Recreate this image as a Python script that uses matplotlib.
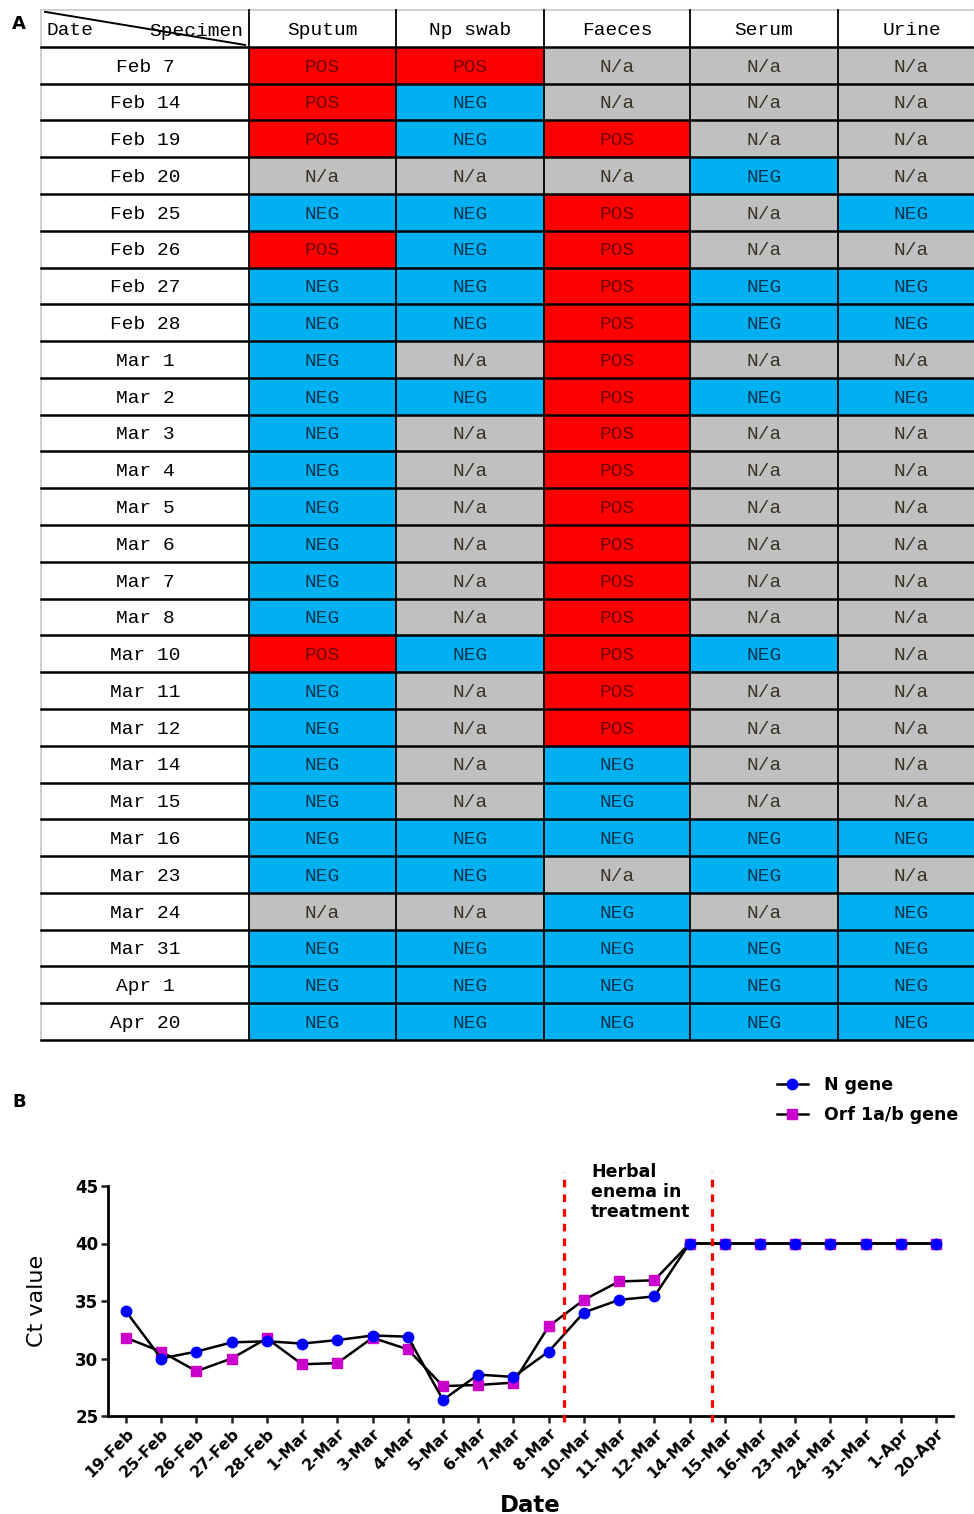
import numpy as np
import matplotlib
matplotlib.use('Agg')
import matplotlib.pyplot as plt
from matplotlib.patches import Rectangle

# ---- panel A data ----
dates = ['Feb 7', 'Feb 14', 'Feb 19', 'Feb 20', 'Feb 25', 'Feb 26', 'Feb 27',
         'Feb 28', 'Mar 1', 'Mar 2', 'Mar 3', 'Mar 4', 'Mar 5', 'Mar 6',
         'Mar 7', 'Mar 8', 'Mar 10', 'Mar 11', 'Mar 12', 'Mar 14', 'Mar 15',
         'Mar 16', 'Mar 23', 'Mar 24', 'Mar 31', 'Apr 1', 'Apr 20']
specimens = ['Sputum', 'Np swab', 'Faeces', 'Serum', 'Urine']
P, N, X = 'POS', 'NEG', 'N/a'
sputum = [P, P, P, X, N, P, N, N, N, N, N, N, N, N, N, N, P, N, N, N, N, N, N, X, N, N, N]
np_swab = [P, N, N, X, N, N, N, N, X, N, X, X, X, X, X, X, N, X, X, X, X, N, N, X, N, N, N]
faeces = [X, X, P, X, P, P, P, P, P, P, P, P, P, P, P, P, P, P, P, N, N, N, X, N, N, N, N]
serum = [X, X, X, N, X, X, N, N, X, N, X, X, X, X, X, X, N, X, X, X, X, N, N, X, N, N, N]
urine = [X, X, X, X, N, X, N, N, X, N, X, X, X, X, X, X, X, X, X, X, X, N, X, N, N, N, N]
results = [sputum, np_swab, faeces, serum, urine]

# ---- panel B data ----
ct_dates = ['19-Feb', '25-Feb', '26-Feb', '27-Feb', '28-Feb', '1-Mar', '2-Mar',
            '3-Mar', '4-Mar', '5-Mar', '6-Mar', '7-Mar', '8-Mar', '10-Mar',
            '11-Mar', '12-Mar', '14-Mar', '15-Mar', '16-Mar', '23-Mar',
            '24-Mar', '31-Mar', '1-Apr', '20-Apr']
n_gene = [34.1, 30.0, 30.6, 31.4, 31.5, 31.3, 31.6, 32.0, 31.9, 26.4, 28.6, 28.4,
          30.6, 34.0, 35.1, 35.4, 40, 40, 40, 40, 40, 40, 40, 40]
orf_gene = [31.8, 30.6, 28.9, 30.0, 31.75, 29.5, 29.6, 31.8, 30.8, 27.6, 27.7, 27.9,
            32.8, 35.1, 36.7, 36.8, 40, 40, 40, 40, 40, 40, 40, 40]
enema_start, enema_end = 12.45, 16.65

W, H = 974, 1514
fig = plt.figure(figsize=(W / 100, H / 100), dpi=100)

cell_bg = {P: '#FF0000', N: '#00B0F0', X: '#C0C0C0'}
cell_fg = {P: '#6e0000', N: '#003552', X: '#3a3326'}
mono = 'Liberation Mono'

# ---- table (panel A) ----
col_w = [208, 147, 148, 146, 148, 147]
edges = np.concatenate([[0], np.cumsum(col_w)])
left, top, right, bottom = 41, 10, 41 + edges[-1], 1040
ax_t = fig.add_axes([left / W, 1 - bottom / H, (right - left) / W, (bottom - top) / H])
n_rows = len(dates) + 1
ax_t.set_xlim(0, edges[-1])
ax_t.set_ylim(n_rows, 0)
ax_t.axis('off')

# header
ax_t.text(5, 0.55, 'Date', ha='left', va='center', fontsize=14, family=mono)
ax_t.text(edges[1] - 6, 0.58, 'Specimen', ha='right', va='center', fontsize=14, family=mono)
ax_t.plot([4, edges[1] - 4], [0.05, 0.95], color='black', lw=1.4)
for j, name in enumerate(specimens):
    ax_t.text((edges[j + 1] + edges[j + 2]) / 2, 0.55, name, ha='center', va='center',
              fontsize=14, family=mono)

for i, d in enumerate(dates):
    r = i + 1
    ax_t.text(edges[1] / 2, r + 0.55, d, ha='center', va='center', fontsize=14, family=mono)
    for j, col in enumerate(results):
        v = col[i]
        ax_t.add_patch(Rectangle((edges[j + 1], r), col_w[j + 1], 1,
                                 facecolor=cell_bg[v], edgecolor='none'))
        ax_t.text((edges[j + 1] + edges[j + 2]) / 2, r + 0.55, v, ha='center', va='center',
                  fontsize=14, family=mono, color=cell_fg[v])

# grid lines
ax_t.plot([0, edges[-1]], [0, 0], color='#c8c8c8', lw=1.2, clip_on=False)
ax_t.plot([0, 0], [0, n_rows], color='#c8c8c8', lw=1.2, clip_on=False)
for r in range(1, n_rows + 1):
    ax_t.plot([0, edges[-1]], [r, r], color='black', lw=1.8, clip_on=False)
for e in edges[1:-1]:
    ax_t.plot([e, e], [0, n_rows], color='black', lw=1.3, clip_on=False)

# ---- line chart (panel B) ----
ax = fig.add_axes([108 / W, 1 - 1416 / H, (953 - 108) / W, (1416 - 1186) / H])
x = np.arange(len(ct_dates))
l_orf, = ax.plot(x, orf_gene, color='black', lw=1.8, marker='s', markersize=7,
                 markerfacecolor='#CC00CC', markeredgecolor='#CC00CC', zorder=3)
l_n, = ax.plot(x, n_gene, color='black', lw=1.8, marker='o', markersize=7.5,
               markerfacecolor='#0000FF', markeredgecolor='#0000FF', zorder=4)

for xv in (enema_start, enema_end):
    ax.plot([xv, xv], [24.5, 46.2], color='#FF0000', lw=2.3,
            linestyle=(0, (2.4, 2.2)), clip_on=False, zorder=5)

ax.text(enema_start + 0.75, 47.0, 'Herbal\nenema in\ntreatment', ha='left', va='top',
        fontsize=12.5, fontweight='bold', family='DejaVu Sans', linespacing=1.15)

ax.set_xlim(-0.51, 23.48)
ax.set_ylim(25, 45)
ax.set_yticks([25, 30, 35, 40, 45])
ax.set_xticks(x)
ax.set_xticklabels(ct_dates, rotation=45, ha='right', rotation_mode='anchor',
                   fontsize=11.5, fontweight='bold', family='DejaVu Sans')
for lab in ax.get_yticklabels():
    lab.set_fontsize(12)
    lab.set_fontweight('bold')
    lab.set_family('DejaVu Sans')
ax.spines['top'].set_visible(False)
ax.spines['right'].set_visible(False)
ax.spines['left'].set_linewidth(2)
ax.spines['bottom'].set_linewidth(2)
ax.tick_params(axis='both', direction='out', length=5, width=1.8, pad=2, color='#222222')
ax.set_ylabel('Ct value', fontsize=16, family='DejaVu Sans', labelpad=20)
ax.set_xlabel('Date', fontsize=16.5, fontweight='bold', family='DejaVu Sans', labelpad=9)

fig.legend([l_n, l_orf], ['N gene', 'Orf 1a/b gene'], loc='upper left',
           bbox_to_anchor=(761 / W, 1 - 1060 / H), frameon=False, handlelength=1.8,
           handletextpad=0.9, labelspacing=0.7,
           prop={'family': 'DejaVu Sans', 'weight': 'bold', 'size': 12.5})

fig.text(12 / W, 1 - 24 / H, 'A', fontsize=13, fontweight='bold', family='DejaVu Sans',
         va='center')
fig.text(12 / W, 1 - 1102 / H, 'B', fontsize=13, fontweight='bold', family='DejaVu Sans',
         va='center')

fig.savefig('out.png', dpi=100)
